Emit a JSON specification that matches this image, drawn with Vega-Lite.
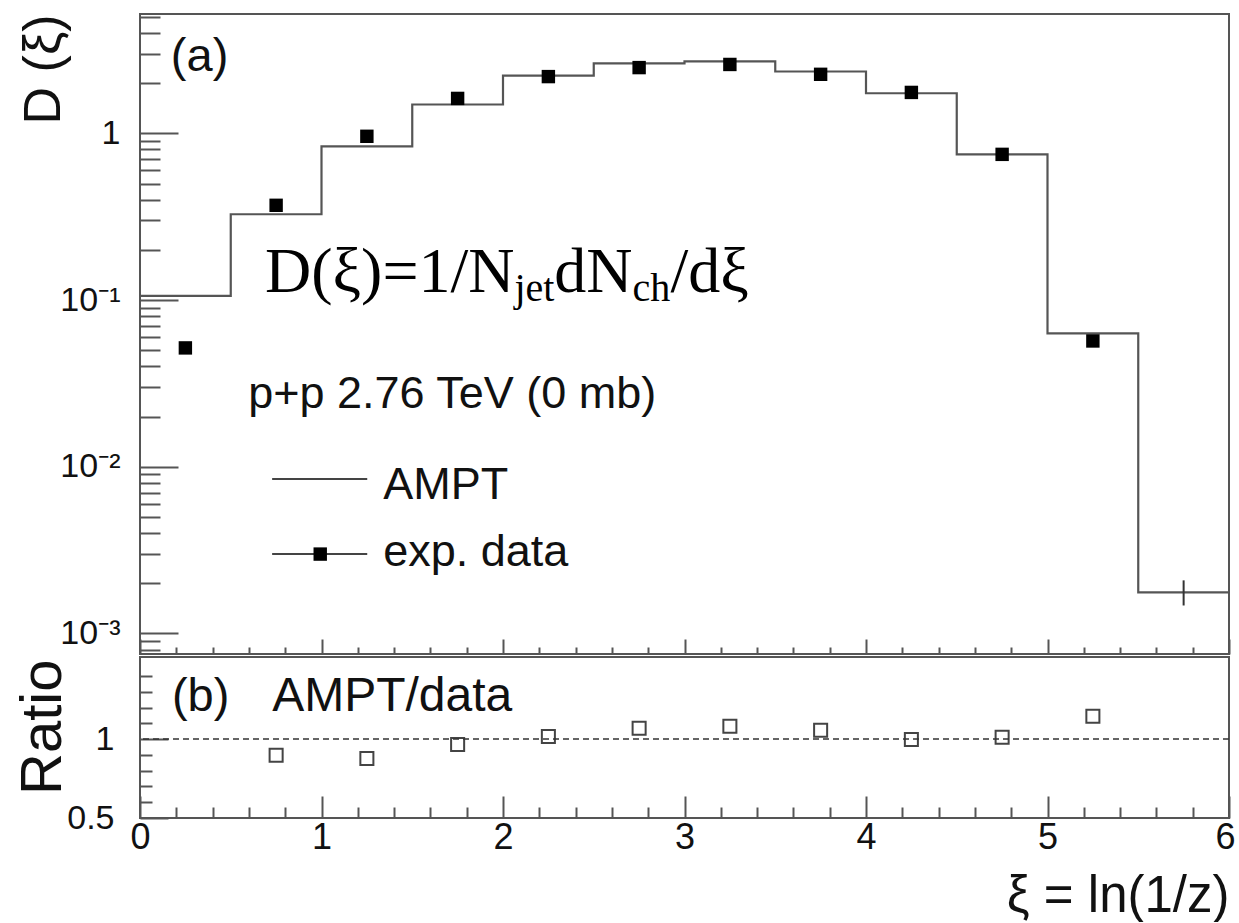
{
  "$schema": "https://vega.github.io/schema/vega-lite/v6.json",
  "padding": {"left": 12, "top": 13, "right": 0, "bottom": 0},
  "background": "white",
  "config": {
    "font": "Liberation Sans",
    "view": {"stroke": "#555", "strokeWidth": 2},
    "concat": {"spacing": 0},
    "axis": {
      "labelFont": "Liberation Sans", "titleFont": "Liberation Sans",
      "labelColor": "#111", "titleColor": "#111", "titleFontWeight": "normal",
      "tickColor": "#555", "tickWidth": 2, "domain": false, "grid": false,
      "labelFlush": false, "labelOverlap": false
    }
  },
  "datasets": {
    "ampt": [
      {"xi": 0.0, "D": 0.106}, {"xi": 0.5, "D": 0.327}, {"xi": 1.0, "D": 0.835},
      {"xi": 1.5, "D": 1.49}, {"xi": 2.0, "D": 2.22}, {"xi": 2.5, "D": 2.63},
      {"xi": 3.0, "D": 2.70}, {"xi": 3.5, "D": 2.35}, {"xi": 4.0, "D": 1.74},
      {"xi": 4.5, "D": 0.748}, {"xi": 5.0, "D": 0.063}, {"xi": 5.5, "D": 0.00176},
      {"xi": 6.0, "D": 0.00176}
    ],
    "ampt_err": [{"xi": 5.75, "lo": 0.00147, "hi": 0.00208}],
    "expdata": [
      {"xi": 0.25, "D": 0.0516}, {"xi": 0.75, "D": 0.37}, {"xi": 1.25, "D": 0.96},
      {"xi": 1.75, "D": 1.62}, {"xi": 2.25, "D": 2.19}, {"xi": 2.75, "D": 2.48},
      {"xi": 3.25, "D": 2.59}, {"xi": 3.75, "D": 2.26}, {"xi": 4.25, "D": 1.76},
      {"xi": 4.75, "D": 0.748}, {"xi": 5.25, "D": 0.0568}
    ],
    "ratio": [
      {"xi": 0.75, "r": 0.898}, {"xi": 1.25, "r": 0.877}, {"xi": 1.75, "r": 0.966},
      {"xi": 2.25, "r": 1.017}, {"xi": 2.75, "r": 1.068}, {"xi": 3.25, "r": 1.081},
      {"xi": 3.75, "r": 1.056}, {"xi": 4.25, "r": 0.998}, {"xi": 4.75, "r": 1.011},
      {"xi": 5.25, "r": 1.145}
    ]
  },
  "vconcat": [
    {
      "width": 1089, "height": 640,
      "resolve": {"axis": {"x": "independent", "y": "independent"}},
      "layer": [
        {
          "data": {"name": "ampt"},
          "mark": {"type": "line", "interpolate": "step-after", "color": "#555", "strokeWidth": 2.2},
          "encoding": {
            "x": {"field": "xi", "type": "quantitative",
                  "scale": {"domain": [0, 6], "nice": false, "zero": false},
                  "axis": {"orient": "bottom", "values": [0,1,2,3,4,5,6], "tickSize": -15, "labels": false, "title": null}},
            "y": {"field": "D", "type": "quantitative",
                  "scale": {"type": "log", "domain": [0.000752, 5.2], "nice": false},
                  "axis": {"orient": "left", "values": [0.001, 0.01, 0.1, 1], "tickSize": -38, "labelPadding": 58,
                           "labelFontSize": 34, "labelBaseline": "middle",
                           "labelExpr": "datum.value > 0.5 ? '1' : datum.value > 0.05 ? '10⁻¹' : datum.value > 0.005 ? '10⁻²' : '10⁻³'",
                           "title": "D (ξ)", "titleFontSize": 52, "titleAngle": -90, "titleX": -97, "titleY": 0,
                           "titleAlign": "right", "titleBaseline": "middle"}}
          }
        },
        {
          "data": {"name": "expdata"},
          "mark": {"type": "point", "shape": "square", "filled": true, "color": "black", "size": 180, "opacity": 1},
          "encoding": {
            "x": {"field": "xi", "type": "quantitative",
                  "axis": {"orient": "bottom", "values": [0.2,0.4,0.6,0.8,1.2,1.4,1.6,1.8,2.2,2.4,2.6,2.8,3.2,3.4,3.6,3.8,4.2,4.4,4.6,4.8,5.2,5.4,5.6,5.8], "tickSize": -7, "labels": false, "title": null}},
            "y": {"field": "D", "type": "quantitative",
                  "axis": {"orient": "left", "values": [0.0008,0.0009,0.002,0.003,0.004,0.005,0.006,0.007,0.008,0.009,0.02,0.03,0.04,0.05,0.06,0.07,0.08,0.09,0.2,0.3,0.4,0.5,0.6,0.7,0.8,0.9,2,3,4,5],
                           "tickSize": -20, "labels": false, "title": null}}
          }
        },
        {
          "data": {"name": "ampt_err"},
          "mark": {"type": "rule", "color": "#333", "strokeWidth": 2},
          "encoding": {
            "x": {"field": "xi", "type": "quantitative", "axis": null},
            "y": {"field": "lo", "type": "quantitative", "axis": null},
            "y2": {"field": "hi"}
          }
        },
        {
          "data": {"values": [{"t": "(a)"}]},
          "mark": {"type": "text", "align": "left", "baseline": "alphabetic", "fontSize": 47, "font": "Liberation Sans", "color": "#111"},
          "encoding": {"x": {"datum": 0.17, "type": "quantitative", "axis": null}, "y": {"datum": 2.364, "type": "quantitative", "axis": null}, "text": {"field": "t"}}
        },
        {
          "data": {"values": [{"t": "D(ξ)=1/N"}]},
          "mark": {"type": "text", "align": "left", "baseline": "alphabetic", "fontSize": 64, "font": "Liberation Serif", "color": "black"},
          "encoding": {"x": {"datum": 0.689, "type": "quantitative", "axis": null}, "y": {"datum": 0.112, "type": "quantitative", "axis": null}, "text": {"field": "t"}}
        },
        {
          "data": {"values": [{"t": "jet"}]},
          "mark": {"type": "text", "align": "left", "baseline": "alphabetic", "fontSize": 40, "font": "Liberation Serif", "color": "black"},
          "encoding": {"x": {"datum": 2.063, "type": "quantitative", "axis": null}, "y": {"datum": 0.098, "type": "quantitative", "axis": null}, "text": {"field": "t"}}
        },
        {
          "data": {"values": [{"t": "dN"}]},
          "mark": {"type": "text", "align": "left", "baseline": "alphabetic", "fontSize": 64, "font": "Liberation Serif", "color": "black"},
          "encoding": {"x": {"datum": 2.283, "type": "quantitative", "axis": null}, "y": {"datum": 0.112, "type": "quantitative", "axis": null}, "text": {"field": "t"}}
        },
        {
          "data": {"values": [{"t": "ch"}]},
          "mark": {"type": "text", "align": "left", "baseline": "alphabetic", "fontSize": 40, "font": "Liberation Serif", "color": "black"},
          "encoding": {"x": {"datum": 2.713, "type": "quantitative", "axis": null}, "y": {"datum": 0.098, "type": "quantitative", "axis": null}, "text": {"field": "t"}}
        },
        {
          "data": {"values": [{"t": "/dξ"}]},
          "mark": {"type": "text", "align": "left", "baseline": "alphabetic", "fontSize": 64, "font": "Liberation Serif", "color": "black"},
          "encoding": {"x": {"datum": 2.923, "type": "quantitative", "axis": null}, "y": {"datum": 0.112, "type": "quantitative", "axis": null}, "text": {"field": "t"}}
        },
        {
          "data": {"values": [{"t": "p+p 2.76 TeV (0 mb)"}]},
          "mark": {"type": "text", "align": "left", "baseline": "alphabetic", "fontSize": 45, "font": "Liberation Sans", "color": "#111"},
          "encoding": {"x": {"datum": 0.596, "type": "quantitative", "axis": null}, "y": {"datum": 0.0225, "type": "quantitative", "axis": null}, "text": {"field": "t"}}
        },
        {
          "data": {"values": [{"s": "AMPT"}, {"s": "exp. data"}]},
          "transform": [{"calculate": "datum.s == 'AMPT' ? 0.00844 : 0.00299", "as": "ly"}],
          "mark": {"type": "rule", "color": "#444", "strokeWidth": 2},
          "encoding": {"x": {"datum": 0.728, "type": "quantitative", "axis": null}, "x2": {"datum": 1.252}, "y": {"field": "ly", "type": "quantitative", "axis": null}}
        },
        {
          "data": {"values": [{"s": "exp. data"}]},
          "mark": {"type": "point", "shape": "square", "filled": true, "color": "black", "size": 180, "opacity": 1},
          "encoding": {"x": {"datum": 0.993, "type": "quantitative", "axis": null}, "y": {"datum": 0.00299, "type": "quantitative", "axis": null}}
        },
        {
          "data": {"values": [{"t": "AMPT"}]},
          "mark": {"type": "text", "align": "left", "baseline": "alphabetic", "fontSize": 45, "font": "Liberation Sans", "color": "#111"},
          "encoding": {"x": {"datum": 1.34, "type": "quantitative", "axis": null}, "y": {"datum": 0.0064, "type": "quantitative", "axis": null}, "text": {"field": "t"}}
        },
        {
          "data": {"values": [{"t": "exp. data"}]},
          "mark": {"type": "text", "align": "left", "baseline": "alphabetic", "fontSize": 45, "font": "Liberation Sans", "color": "#111"},
          "encoding": {"x": {"datum": 1.34, "type": "quantitative", "axis": null}, "y": {"datum": 0.00254, "type": "quantitative", "axis": null}, "text": {"field": "t"}}
        }
      ]
    },
    {
      "width": 1089, "height": 161,
      "resolve": {"axis": {"x": "independent", "y": "independent"}},
      "layer": [
        {
          "data": {"name": "ratio"},
          "mark": {"type": "point", "shape": "square", "filled": false, "stroke": "#444", "strokeWidth": 2, "size": 170, "opacity": 1},
          "encoding": {
            "x": {"field": "xi", "type": "quantitative",
                  "scale": {"domain": [0, 6], "nice": false, "zero": false},
                  "axis": {"orient": "bottom", "values": [0,1,2,3,4,5,6], "tickSize": -22, "labelPadding": 24, "labelFontSize": 36,
                           "labelOffset": {"condition": {"test": "datum.value == 6", "value": -4}, "value": 0},
                           "title": "ξ = ln(1/z)", "titleFontSize": 51, "titleX": 1089, "titleY": 93,
                           "titleAlign": "right", "titleBaseline": "alphabetic"}},
            "y": {"field": "r", "type": "quantitative",
                  "scale": {"domain": [0.5, 1.52], "nice": false, "zero": false},
                  "axis": {"orient": "left", "values": [0.5, 1], "tickSize": -28, "labelPadding": 54, "labelFontSize": 34, "labelBaseline": "middle",
                           "labelExpr": "datum.value > 0.75 ? '1' : '0.5'",
                           "title": "Ratio", "titleFontSize": 58, "titleAngle": -90, "titleX": -97, "titleY": 2,
                           "titleAlign": "right", "titleBaseline": "middle"}}
          }
        },
        {
          "data": {"values": [{"ref": 1}]},
          "mark": {"type": "rule", "color": "#333", "strokeWidth": 1.5, "strokeDash": [6, 4]},
          "encoding": {"y": {"field": "ref", "type": "quantitative", "axis": null}}
        },
        {
          "data": {"values": [{"t": "(b)"}]},
          "mark": {"type": "text", "align": "left", "baseline": "alphabetic", "fontSize": 47, "font": "Liberation Sans", "color": "#111"},
          "encoding": {
            "x": {"datum": 0.176, "type": "quantitative",
                  "axis": {"orient": "bottom", "values": [0.2,0.4,0.6,0.8,1.2,1.4,1.6,1.8,2.2,2.4,2.6,2.8,3.2,3.4,3.6,3.8,4.2,4.4,4.6,4.8,5.2,5.4,5.6,5.8], "tickSize": -11, "labels": false, "title": null}},
            "y": {"datum": 1.177, "type": "quantitative",
                  "axis": {"orient": "left", "values": [0.6,0.7,0.8,0.9,1.1,1.2,1.3,1.4], "tickSize": -12, "labels": false, "title": null}},
            "text": {"field": "t"}
          }
        },
        {
          "data": {"values": [{"t": "AMPT/data"}]},
          "mark": {"type": "text", "align": "left", "baseline": "alphabetic", "fontSize": 48, "font": "Liberation Sans", "color": "#111"},
          "encoding": {"x": {"datum": 0.728, "type": "quantitative", "axis": null}, "y": {"datum": 1.177, "type": "quantitative", "axis": null}, "text": {"field": "t"}}
        }
      ]
    }
  ]
}
